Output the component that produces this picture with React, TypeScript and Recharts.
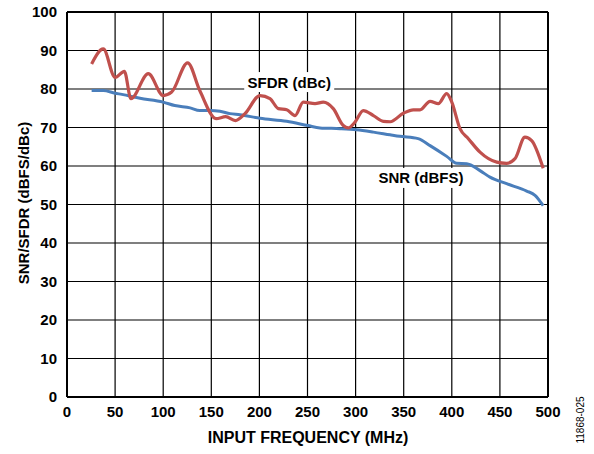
import React from 'react';
import {
  LineChart,
  Line,
  XAxis,
  YAxis,
  CartesianGrid,
  ReferenceDot,
  ReferenceLine,
} from 'recharts';

// SFDR (dBc)
const sfdrFreq = [
  25.6, 37.7, 50, 59.6, 66.5, 84.5, 100, 108.8, 125.4, 138, 155, 165, 175, 185, 200.6, 211,
  219.7, 228.4, 237, 245.6, 257.8, 266.4, 276.8, 287.2, 292.4, 299.4, 308, 318.5, 328.8, 336,
  349.6, 360, 367, 377.4, 386, 394.7, 400, 408.5, 417.2, 429.3, 446.7, 457, 465.7, 476, 483, 495,
];
const sfdrValues = [
  86.5, 90.4, 83, 84.6, 77.5, 84, 78.3, 79.2, 86.8, 79.6, 72.3, 72.8, 71.8, 73.6, 78.3, 77.5,
  74.9, 74.6, 73.1, 76.6, 76.2, 76.6, 74.9, 70.5, 69.9, 71.4, 74.4, 73.1, 71.6, 71.5,
  73.7, 74.6, 74.6, 76.8, 76.2, 78.8, 76.6, 69.7, 67.1, 63.6, 61, 60.7, 61.9, 67.5, 66.6, 59.4,
];

// SNR (dBFS)
const snrFreq = [
  25.6, 37.7, 50, 57, 75.9, 100, 112, 128, 138, 148.6, 159, 169.4, 179.8, 200.6, 228.4, 250.5,
  263, 283.8, 301, 318.5, 335.8, 346, 365, 377.4, 394.7, 405, 415.5, 429.3, 439.7, 457, 477.8,
  486.5, 495,
];
const snrValues = [
  79.6, 79.6, 78.9, 78.6, 77.6, 76.6, 75.7, 75.1, 74.4, 74.4, 74.2, 73.6, 73.3, 72.4, 71.6, 70.5,
  69.9, 69.7, 69.4, 68.8, 68.1, 67.7, 67.1, 65.3, 62.5, 60.7, 60.6, 58.8, 57.1, 55.4, 53.5,
  52.4, 49.7,
];

const xTicks = [0, 50, 100, 150, 200, 250, 300, 350, 400, 450, 500];
const yTicks = [0, 10, 20, 30, 40, 50, 60, 70, 80, 90, 100];

const sfdrData = sfdrFreq.map((f, i) => ({ f, v: sfdrValues[i] }));
const snrData = snrFreq.map((f, i) => ({ f, v: snrValues[i] }));

const FONT = '"Liberation Sans", Arial, sans-serif';
const RED = '#c0504d';
const BLUE = '#4a7ebb';

const boxLabel = (text: string, w: number) => (props: any) => {
  const { cx, cy } = props;
  return (
    <g>
      <rect x={cx - w / 2} y={cy - 10} width={w} height={20} fill="#fff" />
      <text
        x={cx}
        y={cy}
        textAnchor="middle"
        dominantBaseline="central"
        fontFamily={FONT}
        fontWeight="bold"
        fontSize={15}
        fill="#000"
      >
        {text}
      </text>
    </g>
  );
};

export default function App() {
  const tickStyle = { fontFamily: FONT, fontWeight: 'bold' as const, fontSize: 15, fill: '#000' };
  return (
    <div style={{ position: 'absolute', left: 0, top: 0, width: 594, height: 454, background: '#fff' }}>
      <LineChart width={594} height={454} margin={{ top: 12, right: 46, bottom: 7, left: 0 }}>
        <CartesianGrid stroke="#000" strokeWidth={1.2} horizontalValues={yTicks} verticalValues={xTicks} />
        <XAxis
          type="number"
          dataKey="f"
          domain={[0, 500]}
          ticks={xTicks}
          interval={0}
          tickLine={false}
          axisLine={{ stroke: '#000', strokeWidth: 2 }}
          tick={tickStyle}
          tickMargin={3}
          height={50}
          allowDuplicatedCategory={false}
        />
        <YAxis
          type="number"
          domain={[0, 100]}
          ticks={yTicks}
          interval={0}
          tickLine={false}
          axisLine={{ stroke: '#000', strokeWidth: 2 }}
          tick={tickStyle}
          tickMargin={4}
          width={67}
        />
        <ReferenceLine y={100} stroke="#000" strokeWidth={2} />
        <ReferenceLine x={500} stroke="#000" strokeWidth={2} />
        <Line
          data={snrData}
          dataKey="v"
          type="monotone"
          stroke={BLUE}
          strokeWidth={3}
          dot={false}
          isAnimationActive={false}
        />
        <Line
          data={sfdrData}
          dataKey="v"
          type="monotone"
          stroke={RED}
          strokeWidth={3.2}
          dot={false}
          isAnimationActive={false}
        />
        <ReferenceDot x={231} y={81.8} r={0} shape={boxLabel('SFDR (dBc)', 90)} />
        <ReferenceDot x={368} y={56.9} r={0} shape={boxLabel('SNR (dBFS)', 94)} />
      </LineChart>
      <div
        style={{
          position: 'absolute',
          left: 0,
          top: 429,
          width: 616,
          textAlign: 'center',
          fontFamily: FONT,
          fontWeight: 'bold',
          fontSize: 16,
        }}
      >
        INPUT FREQUENCY (MHz)
      </div>
      <div
        style={{
          position: 'absolute',
          left: 23,
          top: 203,
          transform: 'translate(-50%, -50%) rotate(-90deg)',
          whiteSpace: 'nowrap',
          fontFamily: FONT,
          fontWeight: 'bold',
          fontSize: 15,
        }}
      >
        SNR/SFDR (dBFS/dBc)
      </div>
      <div
        style={{
          position: 'absolute',
          left: 580,
          top: 420,
          transform: 'translate(-50%, -50%) rotate(-90deg)',
          whiteSpace: 'nowrap',
          fontFamily: FONT,
          fontSize: 10,
        }}
      >
        11868-025
      </div>
    </div>
  );
}
